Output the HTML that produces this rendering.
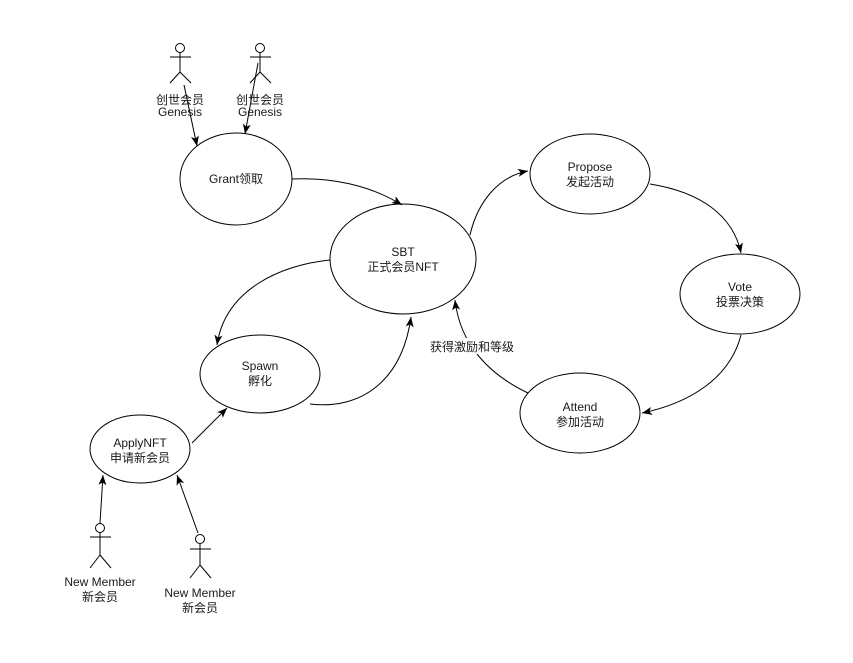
<!DOCTYPE html>
<html>
<head>
<meta charset="utf-8">
<style>
html,body{margin:0;padding:0;background:#fff;}
svg{display:block;}
text{font-family:"Liberation Sans","Noto Sans CJK SC",sans-serif;font-size:12px;fill:#1a1a1a;}
</style>
</head>
<body>
<svg width="853" height="663" viewBox="0 0 853 663" xmlns="http://www.w3.org/2000/svg">
<defs>
<marker id="ar" markerUnits="userSpaceOnUse" markerWidth="12" markerHeight="10" refX="10" refY="4" orient="auto">
<path d="M0,0 L10,4 L0,8 L2.5,4 z" fill="#000"/>
</marker>
</defs>
<rect width="853" height="663" fill="#fff"/>
<g fill="none" stroke="#000" stroke-width="1">
<!-- Actors Genesis -->
<circle cx="180" cy="48" r="4.5"/>
<line x1="180" y1="52.5" x2="180" y2="72"/>
<line x1="170" y1="57" x2="191" y2="57"/>
<line x1="180" y1="72" x2="170" y2="83"/>
<line x1="180" y1="72" x2="191" y2="83"/>

<circle cx="260" cy="48" r="4.5"/>
<line x1="260" y1="52.5" x2="260" y2="72"/>
<line x1="250" y1="57" x2="271" y2="57"/>
<line x1="260" y1="72" x2="250" y2="83"/>
<line x1="260" y1="72" x2="271" y2="83"/>

<!-- Actors New Member -->
<circle cx="100" cy="528" r="4.5"/>
<line x1="100" y1="532.5" x2="100" y2="555"/>
<line x1="90" y1="537" x2="111" y2="537"/>
<line x1="100" y1="555" x2="90" y2="568"/>
<line x1="100" y1="555" x2="111" y2="568"/>

<circle cx="200" cy="539" r="4.5"/>
<line x1="200" y1="543.5" x2="200" y2="565"/>
<line x1="190" y1="549" x2="211" y2="549"/>
<line x1="200" y1="565" x2="190" y2="578"/>
<line x1="200" y1="565" x2="211" y2="578"/>

<!-- Ellipses -->
<ellipse cx="236" cy="179" rx="56" ry="46"/>
<ellipse cx="403" cy="259" rx="73" ry="55"/>
<ellipse cx="260" cy="374" rx="60" ry="39"/>
<ellipse cx="140" cy="449" rx="50" ry="34"/>
<ellipse cx="590" cy="174" rx="60" ry="40"/>
<ellipse cx="740" cy="294" rx="60" ry="40"/>
<ellipse cx="580" cy="413" rx="60" ry="40"/>

<!-- Edges -->
<line x1="184" y1="85" x2="197" y2="146" marker-end="url(#ar)"/>
<line x1="258" y1="63" x2="245" y2="134" marker-end="url(#ar)"/>
<path d="M292,179 C330,177 370,185 402,205" marker-end="url(#ar)"/>
<path d="M330,260 C280,265 225,290 217,345" marker-end="url(#ar)"/>
<path d="M310,404 C360,410 402,382 411,317" marker-end="url(#ar)"/>
<line x1="192" y1="443" x2="227" y2="408" marker-end="url(#ar)"/>
<line x1="100" y1="523" x2="103" y2="475" marker-end="url(#ar)"/>
<line x1="198" y1="533" x2="177" y2="475" marker-end="url(#ar)"/>
<path d="M470,235 C478,200 500,176 528,171" marker-end="url(#ar)"/>
<path d="M650,184 C700,192 733,215 741,253" marker-end="url(#ar)"/>
<path d="M741,335 C730,378 690,403 642,413" marker-end="url(#ar)"/>
<path d="M528,393 C490,375 460,345 455,300" marker-end="url(#ar)"/>
</g>

<!-- Labels -->
<g text-anchor="middle">
<text x="180" y="104">创世会员</text>
<text x="180" y="116">Genesis</text>
<text x="260" y="104">创世会员</text>
<text x="260" y="116">Genesis</text>

<text x="236" y="183">Grant领取</text>
<text x="403" y="256">SBT</text>
<text x="403" y="271">正式会员NFT</text>
<text x="260" y="370">Spawn</text>
<text x="260" y="385">孵化</text>
<text x="140" y="447">ApplyNFT</text>
<text x="140" y="462">申请新会员</text>
<text x="590" y="171">Propose</text>
<text x="590" y="186">发起活动</text>
<text x="740" y="291">Vote</text>
<text x="740" y="306">投票决策</text>
<text x="580" y="411">Attend</text>
<text x="580" y="426">参加活动</text>

<text x="100" y="586">New Member</text>
<text x="100" y="601">新会员</text>
<text x="200" y="597">New Member</text>
<text x="200" y="612">新会员</text>

<rect x="428" y="338" width="88" height="16" fill="#fff"/>
<text x="472" y="351">获得激励和等级</text>
</g>
</svg>
</body>
</html>
